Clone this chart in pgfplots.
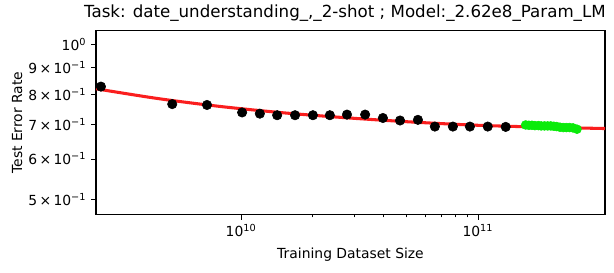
\documentclass[border=0pt]{standalone}
\usepackage{fontspec}
\setmainfont{DejaVu Sans}
\usepackage{pgfplots}
\pgfplotsset{compat=1.18}
\definecolor{fitred}{RGB}{250,30,30}
\definecolor{lime}{RGB}{10,235,10}
\begin{document}
\begin{tikzpicture}
\begin{axis}[
  scale only axis,
  width=366.5pt, height=132.5pt,
  xmode=log, ymode=log,
  xmin=2.44e9, xmax=3.44e11,
  ymin=0.468, ymax=1.062,
  tick pos=left,
  tick align=outside,
  major tick length=3.5pt,
  minor tick length=2pt,
  xtick={1e10,1e11},
  xticklabels={10\textsuperscript{10},10\textsuperscript{11}},
  ytick={0.5,0.6,0.7,0.8,0.9,1},
  yticklabels={5\,×\,10\textsuperscript{−1},6\,×\,10\textsuperscript{−1},7\,×\,10\textsuperscript{−1},8\,×\,10\textsuperscript{−1},9\,×\,10\textsuperscript{−1},10\textsuperscript{0}},
  yminorticks=false,
  tick label style={font=\fontsize{10}{12}\selectfont},
  tick style={black, line width=0.6pt},
  axis line style={line width=0.8pt},
  xlabel={Training Dataset Size},
  ylabel={Test Error Rate},
  label style={font=\fontsize{10}{12}\selectfont},
  xlabel style={at={(axis description cs:0.5,-0.217)}, anchor=center},
  ylabel style={at={(axis description cs:-0.155,0.5)}, anchor=center, rotate=0},
  title={Task: date\_understanding\_,\_2-shot ; Model:\_2.62e8\_Param\_LM},
  title style={at={(axis description cs:0.489,1.05)}, anchor=center, font=\fontsize{12}{14}\selectfont},
  clip=false,
]
\addplot[only marks, mark=*, mark size=3.4pt, black] coordinates {
(2.56e9,0.828) (5.12e9,0.766) (7.18e9,0.763) (1.01e10,0.738) (1.20e10,0.734)
(1.42e10,0.729) (1.69e10,0.729) (2.01e10,0.729) (2.37e10,0.729) (2.80e10,0.731)
(3.34e10,0.731) (3.97e10,0.720) (4.69e10,0.712) (5.58e10,0.714) (6.58e10,0.693)
(7.84e10,0.693) (9.25e10,0.693) (1.10e11,0.693) (1.31e11,0.692)
};
\addplot[only marks, mark=*, mark size=3.2pt, lime] coordinates {
(1.59e11,0.698) (1.64e11,0.697) (1.69e11,0.697) (1.74e11,0.696) (1.80e11,0.696)
(1.85e11,0.695) (1.91e11,0.695) (1.97e11,0.695) (2.03e11,0.695) (2.09e11,0.694)
(2.15e11,0.693) (2.22e11,0.691) (2.29e11,0.690) (2.36e11,0.690) (2.44e11,0.690)
(2.52e11,0.689) (2.62e11,0.685)
};
\addplot[smooth, line width=2.2pt, fitred, no marks] coordinates {
(2.44e9,0.820) (4.47e9,0.785) (8.15e9,0.758) (1.50e10,0.737) (2.75e10,0.721)
(5.06e10,0.708) (9.25e10,0.698) (1.67e11,0.692) (3.44e11,0.687)
};
\end{axis}
\path (-69.1pt,-41.8pt) rectangle (373pt,154.6pt);
\end{tikzpicture}
\end{document}
